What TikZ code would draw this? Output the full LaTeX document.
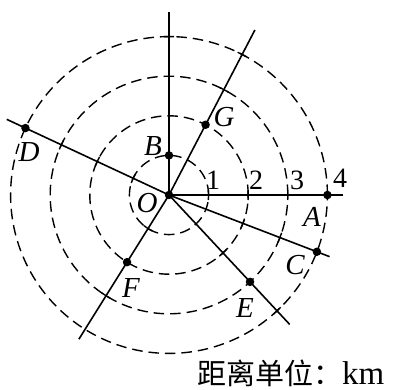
\documentclass[tikz,border=0pt]{standalone}
\usepackage{fontspec}
\setmainfont{Liberation Serif}
\newfontfamily\cjk{Noto Sans CJK SC}
\begin{document}
\begin{tikzpicture}[x=1pt,y=1pt,
  ray/.style={line width=1.6pt},
  circ/.style={line width=1.4pt, dash pattern=on 10.5pt off 6pt},
  tick/.style={line width=1.4pt},
  dot/.style={circle,fill,inner sep=0pt,minimum size=8.5pt},
  lab/.style={font=\fontsize{29}{29}\selectfont\itshape, inner sep=0pt},
  num/.style={font=\fontsize{28}{28}\selectfont, inner sep=0pt}]
\useasboundingbox (0,-390) rectangle (396,0);
\def\u{39.6}
\coordinate (O) at (169,-195);
% circles
\foreach \k in {1,...,4} \draw[circ] (O) circle ({\k*\u});
% ticks where rays cross circles
\foreach \k/\a in {1/0,2/0,3/0,1/155,2/155,3/155,4/90,3/62.5,4/62.5,1/238,3/238,2/-47,4/-47,2/-21,3/-21}{
  \pgfmathsetmacro\d{7.24/\k}
  \pgfmathsetmacro\R{\k*\u}
  \draw[tick] (O) ++({\a-\d}:\R) arc[start angle={\a-\d}, end angle={\a+\d}, radius=\R];
}
% ray ends
\path (O) ++(90:183) coordinate (eN);
\path (O) ++(0:174) coordinate (eA);
\path (O) ++(62.5:186) coordinate (eG);
\path (O) ++(155:179) coordinate (eD);
\path (O) ++(-21:172) coordinate (eC);
\path (O) ++(-47:177) coordinate (eE);
\path (O) ++(238:170) coordinate (eF);
\foreach \e in {eN,eA,eG,eD,eC,eE,eF} \draw[ray] (O) -- (\e);
% points
\node[dot] (Od) at (O) {};
\path (O) ++(0:{4*\u}) node[dot] (A) {};
\path (O) ++(90:{1*\u}) node[dot] (B) {};
\path (O) ++(-21:{4*\u}) node[dot] (C) {};
\path (O) ++(155:{4*\u}) node[dot] (D) {};
\path (O) ++(-47:{3*\u}) node[dot] (E) {};
\path (O) ++(238:{2*\u}) node[dot] (F) {};
\path (O) ++(62.5:{2*\u}) node[dot] (G) {};
% labels
\node[lab] (lO) at (147,-203) {O};
\node[lab] (lA) at (312,-217) {A};
\node[lab] (lB) at (153,-146) {B};
\node[lab] (lC) at (295,-265) {C};
\node[lab] (lD) at (29,-152) {D};
\node[lab] (lE) at (245,-308) {E};
\node[lab] (lF) at (131,-288) {F};
\node[lab] (lG) at (224,-117) {G};
\node[num] (n1) at (213,-180) {1};
\node[num] (n2) at (256,-180) {2};
\node[num] (n3) at (297,-180) {3};
\node[num] (n4) at (340,-178) {4};
\node[anchor=base west, inner sep=0pt] (unit) at (197,-384) {\fontsize{29}{29}\selectfont\cjk 距离单位：\fontsize{33}{33}\selectfont\rmfamily km};
\end{tikzpicture}
\end{document}
